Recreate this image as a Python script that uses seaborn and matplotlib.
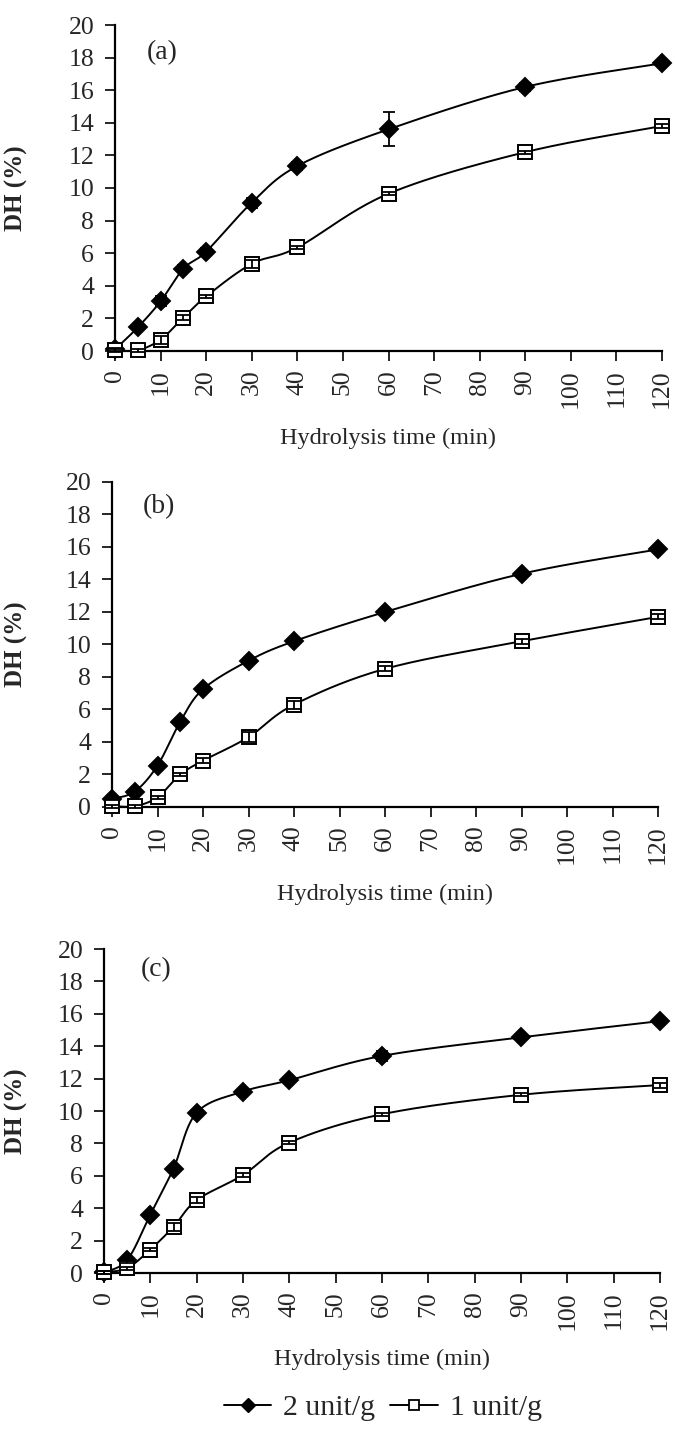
import numpy as np
import pandas as pd
import seaborn as sns
import matplotlib.pyplot as plt
from matplotlib.lines import Line2D

sns.set_style('ticks')
plt.rcParams['font.family'] = ['Liberation Serif', 'DejaVu Serif']

# hydrolysis time (min)
time = [0, 5, 10, 15, 20, 30, 40, 60, 90, 120]

# DH (%) for panel (a), (b), (c)
dh_a_2 = [0.1, 1.45, 3.05, 5.05, 6.1, 9.1, 11.35, 13.6, 16.2, 17.65]
dh_a_1 = [0.05, 0.05, 0.7, 2.05, 3.35, 5.35, 6.35, 9.65, 12.2, 13.8]
dh_b_2 = [0.5, 0.95, 2.55, 5.25, 7.25, 9.0, 10.2, 12.0, 14.35, 15.85]
dh_b_1 = [0.05, 0.05, 0.6, 2.0, 2.85, 4.3, 6.3, 8.5, 10.2, 11.7]
dh_c_2 = [0.05, 0.8, 3.6, 6.45, 9.9, 11.2, 11.9, 13.4, 14.55, 15.55]
dh_c_1 = [0.05, 0.3, 1.45, 2.85, 4.5, 6.05, 8.05, 9.8, 11.0, 11.6]

# standard deviations (error bars)
err_a_2 = [0.1, 0.1, 0.3, 0.2, 0.2, 0.3, 0.25, 1.05, 0.25, 0.1]
err_a_1 = [0.1, 0.1, 0.25, 0.15, 0.1, 0.25, 0.1, 0.1, 0.1, 0.1]
err_b_2 = [0.1, 0.1, 0.1, 0.15, 0.1, 0.1, 0.1, 0.1, 0.1, 0.1]
err_b_1 = [0.1, 0.1, 0.1, 0.1, 0.15, 0.3, 0.25, 0.15, 0.15, 0.15]
err_c_2 = [0.1, 0.2, 0.1, 0.15, 0.15, 0.1, 0.1, 0.3, 0.1, 0.1]
err_c_1 = [0.1, 0.1, 0.1, 0.25, 0.2, 0.1, 0.1, 0.1, 0.1, 0.15]

panel_labels = ['(a)', '(b)', '(c)']
series_labels = ['2 unit/g', '1 unit/g']


def smooth(x, y, n=40):
    # Catmull-Rom style bezier smoothing, like spreadsheet "smoothed line"
    p = np.column_stack([x, y]).astype(float)
    out = []
    for i in range(len(p) - 1):
        p0 = p[i - 1] if i > 0 else p[i]
        p1, p2 = p[i], p[i + 1]
        p3 = p[i + 2] if i + 2 < len(p) else p[i + 1]
        c1 = p1 + (p2 - p0) / 6
        c2 = p2 - (p3 - p1) / 6
        t = np.linspace(0, 1, n)[:, None]
        seg = ((1 - t) ** 3) * p1 + 3 * ((1 - t) ** 2) * t * c1 + 3 * (1 - t) * t ** 2 * c2 + t ** 3 * p2
        out.append(seg if i == 0 else seg[1:])
    out = np.vstack(out)
    return out[:, 0], out[:, 1]


fig = plt.figure(figsize=(6.75, 14.3), dpi=100)
W, H = 675, 1430
# axes boxes in pixels: left, top, right, bottom
boxes = [(115, 25, 662, 351), (112, 482, 658, 807), (104, 949, 660, 1273)]
label_pos = [(7, 18.3), (6.8, 18.5), (8, 18.7)]
data = [(dh_a_2, err_a_2, dh_a_1, err_a_1),
        (dh_b_2, err_b_2, dh_b_1, err_b_1),
        (dh_c_2, err_c_2, dh_c_1, err_c_1)]

for k, (l, t, r, b) in enumerate(boxes):
    ax = fig.add_axes([l / W, 1 - b / H, (r - l) / W, (b - t) / H])
    y2, e2, y1, e1 = data[k]
    for y, e, mk, fc in [(y2, e2, 'D', 'black'), (y1, e1, 's', 'white')]:
        xs, ys = smooth(time, y)
        sns.lineplot(x=xs, y=ys, ax=ax, color='black', lw=1.4, sort=False, zorder=2)
        ax.plot(time, y, ls='none', marker=mk, ms=9 if mk == 'D' else 9.5,
                mfc=fc, mec='black', mew=1.4, zorder=4, clip_on=False)
        eb = ax.errorbar(time, y, yerr=e, fmt='none', ecolor='black', elinewidth=1.3,
                         capsize=4.5, capthick=1.3, zorder=5)
        for art in eb.lines[1] + eb.lines[2]:
            art.set_clip_on(False)
    ax.set_xlim(0, 120)
    ax.set_ylim(0, 20)
    ax.set_xticks(range(0, 121, 10))
    ax.set_yticks(range(0, 21, 2))
    ax.tick_params(axis='x', labelsize=18.5, rotation=90, length=7, width=1.4, direction='out', pad=6)
    ax.tick_params(axis='y', labelsize=18.5, length=7, width=1.4, direction='out', pad=8)
    sns.despine(ax=ax)
    for s in ['left', 'bottom']:
        ax.spines[s].set_linewidth(1.6)
        ax.spines[s].set_color('black')
        ax.spines[s].set_zorder(1)
    ax.set_xlabel('Hydrolysis time (min)', fontsize=17.5)
    ax.xaxis.set_label_coords(0.5, -0.235)
    ax.set_ylabel('DH (%)', fontsize=18, fontweight='bold')
    ax.yaxis.set_label_coords((28 - l) / (r - l), 0.5)
    ax.text(label_pos[k][0], label_pos[k][1], panel_labels[k], fontsize=20, ha='left', va='center')
    ax.set_facecolor('white')

handles = [Line2D([], [], color='black', lw=1.4, marker='D', ms=7, mfc='black', mec='black'),
           Line2D([], [], color='black', lw=1.4, marker='s', ms=7.5, mfc='white', mec='black', mew=1.3)]
fig.legend(handles, series_labels, loc='center', bbox_to_anchor=(383 / W, 1 - 1408 / H), ncol=2,
           frameon=False, fontsize=21.5, handlelength=1.6, handletextpad=0.4, columnspacing=0.5,
           borderpad=0, borderaxespad=0)

fig.savefig('out.png', dpi=100, facecolor='white')
